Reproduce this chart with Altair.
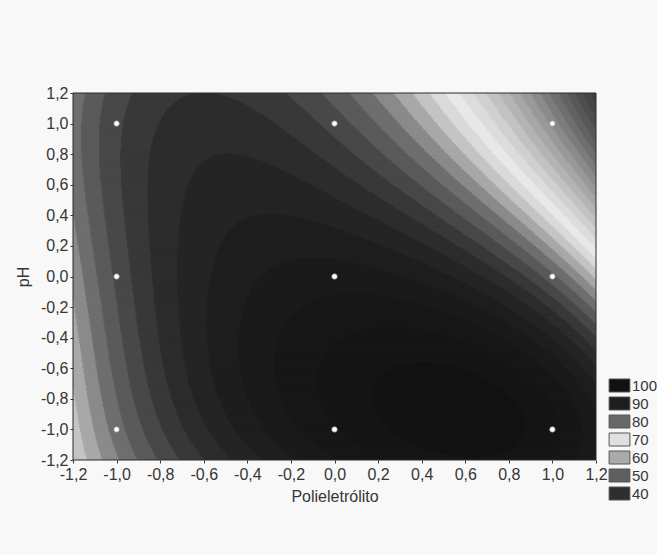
import numpy as np
import pandas as pd
import altair as alt

# ---- values -----------------------------------------------------------
# response surface estimated on a 7x7 grid (x = Polieletrólito, y = pH)
grid_pos = [-1.2, -0.8, -0.4, 0.0, 0.4, 0.8, 1.2]
z_y_p12 = [80.0, 85.0, 87.0, 86.0, 70.5, 58.0, 44.0]
z_y_p08 = [80.0, 86.0, 88.5, 88.5, 81.0, 67.0, 52.0]
z_y_p04 = [79.5, 87.0, 90.0, 91.0, 87.5, 78.0, 60.0]
z_y_000 = [78.5, 87.5, 91.0, 93.5, 93.0, 87.0, 74.0]
z_y_m04 = [76.5, 88.0, 92.0, 96.0, 98.0, 97.0, 85.5]
z_y_m08 = [74.0, 87.5, 93.0, 96.0, 99.5, 100.0, 91.0]
z_y_m12 = [71.0, 86.0, 91.0, 93.5, 97.0, 99.5, 93.0]
grid_rows_y = [1.2, 0.8, 0.4, 0.0, -0.4, -0.8, -1.2]

# experimental design points
design_x = [-1, 0, 1, -1, 0, 1, -1, 0, 1]
design_y = [1, 1, 1, 0, 0, 0, -1, -1, -1]

# tick values
tick_values = [-1.2, -1.0, -0.8, -0.6, -0.4, -0.2, 0.0, 0.2, 0.4, 0.6, 0.8, 1.0, 1.2]

# legend
legend_levels = [100, 90, 80, 70, 60, 50, 40]
legend_colors = ["#111111", "#1e1e1e", "#686868", "#e0e0e0", "#aaaaaa", "#5f5f5f", "#2e2e2e"]

# grey shading of the contour levels
shade_values = [38, 42, 46, 50, 54, 58, 62, 66, 70, 72, 74, 76, 78, 80, 82, 84, 86, 88, 90, 92, 94, 97, 100, 104]
shade_grays = [50, 62, 78, 98, 124, 153, 180, 208, 232, 218, 196, 168, 138, 110, 90, 72, 56, 44, 36, 30, 26, 22, 18, 15]
level_step = 2

# ---- fit a smooth surface through the readings -------------------------
rows_z = [z_y_p12, z_y_p08, z_y_p04, z_y_000, z_y_m04, z_y_m08, z_y_m12]
px, py, pz = [], [], []
for yv, zr in zip(grid_rows_y, rows_z):
    for xv, zv in zip(grid_pos, zr):
        px.append(xv); py.append(yv); pz.append(zv)
px = np.array(px); py = np.array(py); pz = np.array(pz)

powers = [(i, j) for i in range(5) for j in range(5) if i + j <= 4]


def basis(x, y):
    return np.stack([x ** i * y ** j for i, j in powers], axis=-1)


coef, *_ = np.linalg.lstsq(basis(px, py), pz, rcond=None)

nx, ny = 600, 300
xe = np.linspace(-1.2, 1.2, nx + 1)
ye = np.linspace(-1.2, 1.2, ny + 1)
dx = xe[1] - xe[0]
dy = ye[1] - ye[0]
xc = (xe[:-1] + xe[1:]) / 2
yc = (ye[:-1] + ye[1:]) / 2
XX, YY = np.meshgrid(xc, yc)
Z = basis(XX, YY) @ coef
V = np.round(Z / level_step) * level_step

recs = []
for j in range(ny):
    row = V[j]
    start = 0
    for i in range(1, nx + 1):
        if i == nx or row[i] != row[start]:
            # overlap with the next run / next row so that no seams show
            recs.append((xe[start], xe[i] + 1.5 * dx, ye[j], ye[j + 1] + 1.5 * dy, float(row[start])))
            start = i
cells = pd.DataFrame(recs, columns=["x0", "x1", "y0", "y1", "v"])

shade_hex = ["#%02x%02x%02x" % (g, g, g) for g in shade_grays]

FONT = "Liberation Sans"
TXT = "#363636"
label_expr = "(datum.value < 0 ? '-' : '') + replace(format(abs(datum.value), '.1f'), '.', ',')"

xscale = alt.Scale(domain=[-1.2, 1.2], nice=False, zero=False)
yscale = alt.Scale(domain=[-1.2, 1.2], nice=False, zero=False)
shade_scale = alt.Scale(domain=shade_values, range=shade_hex, interpolate="rgb", clamp=True)

x_axis = alt.Axis(title="Polieletrólito", values=tick_values, labelExpr=label_expr,
                  grid=False, domain=False, tickSize=3, tickColor="#333", labelPadding=3,
                  labelFlush=False, labelOverlap=False, titlePadding=6,
                  labelFont=FONT, titleFont=FONT, labelFontSize=16, titleFontSize=16,
                  labelColor=TXT, titleColor=TXT, titleFontWeight="normal", zindex=1)
y_axis = alt.Axis(title="pH", values=tick_values, labelExpr=label_expr,
                  grid=False, domain=False, tickSize=3, tickColor="#333", labelPadding=2,
                  labelFlush=False, labelOverlap=False, titlePadding=9,
                  labelFont=FONT, titleFont=FONT, labelFontSize=16, titleFontSize=16,
                  labelColor=TXT, titleColor=TXT, titleFontWeight="normal", zindex=1)

heat = alt.Chart(cells).mark_rect(clip=True).encode(
    x=alt.X("x0:Q", scale=xscale, axis=x_axis),
    x2="x1:Q",
    y=alt.Y("y0:Q", scale=yscale, axis=y_axis),
    y2="y1:Q",
    color=alt.Color("v:Q", scale=shade_scale, legend=None),
)

frame_df = pd.DataFrame({"x0": [-1.2], "x1": [1.2], "y0": [-1.2], "y1": [1.2]})
frame = alt.Chart(frame_df).mark_rect(filled=False, stroke="#2a2a2a", strokeWidth=1).encode(
    x=alt.X("x0:Q", scale=xscale, axis=x_axis), x2="x1:Q",
    y=alt.Y("y0:Q", scale=yscale, axis=y_axis), y2="y1:Q"
)

pts_df = pd.DataFrame({"x": design_x, "y": design_y})
points = alt.Chart(pts_df).mark_circle(size=30, color="white", opacity=1,
                                       stroke="#8a8a8a", strokeWidth=0.7).encode(
    x=alt.X("x:Q", scale=xscale, axis=x_axis),
    y=alt.Y("y:Q", scale=yscale, axis=y_axis),
)

leg_df = pd.DataFrame({"level": legend_levels, "c": legend_colors})
legend_layer = alt.Chart(leg_df).mark_square(opacity=0).encode(
    color=alt.Color("level:O",
                    scale=alt.Scale(domain=legend_levels, range=legend_colors),
                    legend=alt.Legend(title=None, orient="none", legendX=539, legendY=285,
                                      symbolType="M-1.6,-1H1.6V1H-1.6Z", symbolSize=169,
                                      symbolStrokeColor="#555555", symbolStrokeWidth=1,
                                      symbolOpacity=1,
                                      labelFont=FONT, labelFontSize=15, labelColor=TXT,
                                      labelOffset=5, rowPadding=1, padding=0,
                                      labelBaseline="middle")),
).transform_filter("false")

chart = alt.layer(heat, frame, points, legend_layer).resolve_scale(
    color="independent"
).properties(
    width=523, height=367,
    padding={"left": 73, "top": 93, "right": 61, "bottom": 95},
    autosize=alt.AutoSizeParams(type="none"),
    background="#f7f8f7",
).configure_view(strokeWidth=0).configure_axis(labelOverlap=False)

chart.save("out.html", embed_options={"renderer": "svg", "actions": False})
